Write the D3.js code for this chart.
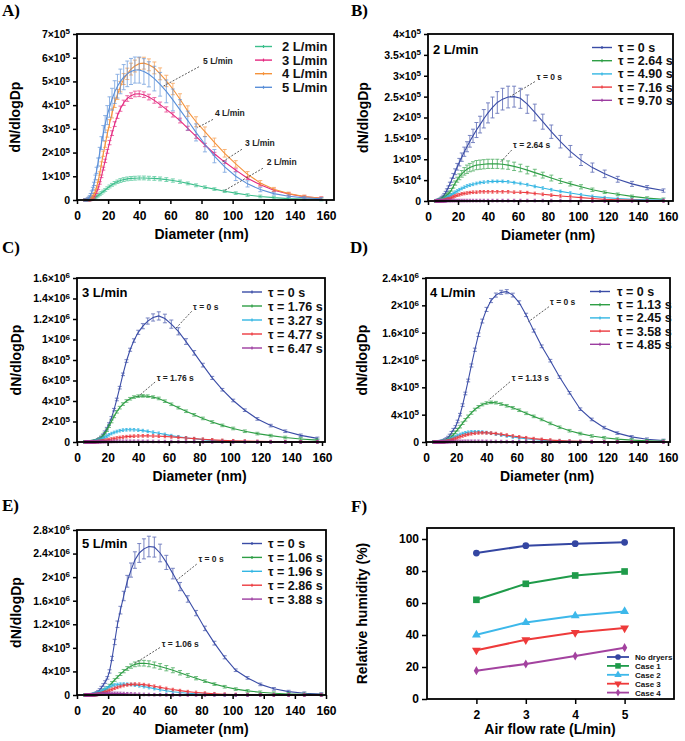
<!DOCTYPE html>
<html><head><meta charset="utf-8">
<script src="https://cdn.jsdelivr.net/npm/d3@7"></script>
<style>
body{margin:0;background:#fff;}
svg{display:block;}
</style></head><body>
<svg id="c" width="685" height="741"></svg>
<script>
// ---------------- DATA (values in thousands, i.e. ×10^3) ----------------
const diameters = [5.3,5.7,6.2,6.6,7.1,7.6,8.2,8.8,9.5,10.2, 10.9,11.8,12.6,13.6,14.6,15.7,16.9,18.1,19.5,20.9, 22.5,24.2,26.0,27.9,30.0,32.3,34.7,37.2,40.0,43.0, 46.2,49.7,53.4,57.4,61.6,66.2,71.2,76.5,82.2,88.3, 94.9,102.0,109.6,117.8,126.5,136.0,146.1,157.0];
const xTicks = [0,20,40,60,80,100,120,140,160];

// Panel A
const seriesA = ["2 L/min","3 L/min","4 L/min","5 L/min"];
const a2 = [0,0,0,0,1,1,2,3,4,6, 8,11,15,19,24,30,36,42,50,57, 64,71,77,82,86,89,91,92,93,93, 92,91,89,86,82,77,70,62,54,46, 37,29,21,15,10,6,4,2];
const a2Err = [0,0,0,0,0,0,0,0,0,1, 1,1,2,2,3,3,4,5,5,6, 6,7,7,8,8,8,8,8,8,8, 8,8,8,8,7,7,6,6,5,5, 4,3,3,2,2,1,1,1];
const a3 = [0,0,0,0,1,1,2,3,5,8, 13,22,33,50,72,100,132,165,205,242, 282,320,355,385,410,428,440,447,448,444, 434,420,402,382,360,335,302,268,232,195, 160,126,92,64,41,25,14,8];
const a3Err = [0,0,0,0,0,0,0,1,1,1, 1,2,2,3,4,5,6,7,8,9, 10,10,11,11,11,12,12,12,12,12, 12,12,11,11,10,10,9,8,7,6, 5,4,3,3,2,2,1,1];
const a4 = [0,0,0,1,2,3,5,8,11,16, 24,37,55,80,112,152,195,235,280,322, 365,410,445,478,510,532,552,565,575,577, 570,557,532,502,468,425,375,330,288,243, 197,152,108,72,45,27,15,7];
const a4Err = [0,0,0,0,0,0,1,1,1,2, 2,3,4,5,7,9,11,13,15,17, 19,20,21,22,23,24,25,25,25,25, 25,25,25,24,24,23,22,21,20,18, 16,14,12,10,8,6,4,3];
const a5 = [0,0,1,2,4,8,14,22,33,48, 68,95,125,160,200,240,282,320,358,392, 425,455,480,500,518,532,542,548,548,542, 530,512,488,458,422,380,335,285,235,185, 140,100,68,44,27,16,9,5];
const a5Err = [0,0,0,0,1,1,1,2,2,5, 7,10,13,17,22,27,32,36,40,43, 46,48,50,52,53,54,55,55,55,54, 53,52,50,48,46,43,40,36,32,28, 23,18,13,9,6,4,2,1];
const yTicksA = [0,1e5,2e5,3e5,4e5,5e5,6e5,7e5];

// Panel B (2 L/min)
const seriesB = ["τ = 0 s","τ = 2.64 s","τ = 4.90 s","τ = 7.16 s","τ = 9.70 s"];
const b0 = [0,0,1,1,2,3,4,6,8,11, 15,20,26,33,41,50,60,70,82,93, 105,118,130,143,156,170,183,197,211,224, 236,244,249,250,246,232,212,190,166,142, 119,98,80,65,52,41,32,25];
const b0Err = [0,0,0,0,0,0,0,1,1,1, 2,2,3,3,4,5,6,7,8,9, 10,11,12,14,16,18,20,22,24,25, 26,26,26,25,24,22,20,18,16,15, 14,13,11,9,7,6,5,4];
const b1 = [0,0,0,0,1,1,2,3,4,6, 8,11,14,17,21,27,35,43,51,58, 65,71,76,80,83,86,87,88,89,89, 89,88,86,83,79,74,68,62,55,48, 41,34,27,21,16,11,7,4];
const b1Err = [0,0,0,0,0,0,0,0,1,1, 1,1,2,2,3,3,4,5,6,7, 8,9,10,10,11,11,11,11,11,11, 11,11,10,10,9,9,8,7,7,6, 5,5,4,3,3,2,2,1];
const b2 = [0,0,0,0,0,1,1,2,2,3, 4,6,8,10,12,15,18,21,24,27, 30,33,36,38,40,42,44,45,46,47, 47,47,46,44,42,39,35,31,27,23, 19,15,11,8,6,4,3,2];
const b3 = [0,0,0,0,0,0,1,1,1,1, 2,3,4,5,6,8,10,12,14,15, 17,18,19,20,21,21,22,22,22,22, 22,22,22,21,21,20,18,16,14,12, 10,8,6,4,3,2,1,1];
const b4 = [0,0,0,0,0,0,0,0,0,0, 0,0,1,1,1,1,1,1,1,1, 1,1,1,1,1,1,1,1,1,1, 1,1,1,1,1,1,1,1,1,1, 1,1,0,0,0,0,0,0];
const yTicksB = [0,5e4,1e5,1.5e5,2e5,2.5e5,3e5,3.5e5,4e5];

// Panel C (3 L/min)
const seriesC = ["τ = 0 s","τ = 1.76 s","τ = 3.27 s","τ = 4.77 s","τ = 6.47 s"];
const c0 = [0,0,0,0,0,1,1,1,2,3, 5,8,12,20,30,45,65,95,130,175, 235,315,415,530,660,790,900,990,1070,1130, 1180,1215,1230,1205,1150,1080,980,870,750,625, 510,405,310,225,160,105,65,35];
const c0Err = [0,0,0,0,0,0,0,0,0,0, 1,1,1,2,2,3,4,5,6,7, 8,9,10,11,12,13,15,17,20,25, 30,35,40,42,40,35,28,22,18,15, 12,10,8,6,5,4,3,2];
const c1 = [0,0,0,0,0,0,1,1,2,3, 5,7,11,17,25,38,56,80,115,155, 200,250,295,335,370,400,422,438,447,450, 447,438,425,398,368,335,300,265,230,195, 162,132,105,82,62,44,30,18];
const c1Err = [0,0,0,0,0,0,0,0,0,0, 0,1,1,1,2,2,3,3,4,5, 5,6,6,7,7,8,8,8,8,8, 8,8,8,7,7,6,6,5,5,4, 4,3,3,2,2,2,1,1];
const c2 = [0,0,0,0,0,0,0,1,1,2, 3,5,8,12,18,25,34,45,57,70, 82,93,102,110,116,119,120,119,116,111, 104,95,85,74,62,51,40,31,23,16, 11,7,5,3,2,1,1,0];
const c3 = [0,0,0,0,0,0,0,0,1,1, 1,2,3,4,6,8,11,15,19,24, 29,34,39,44,48,52,55,57,59,60, 60,59,57,54,50,45,39,33,27,21, 16,12,9,6,4,3,2,1];
const c4 = [0,0,0,0,0,0,0,0,0,0, 0,1,1,1,2,2,3,3,4,5, 5,6,6,7,7,7,7,7,7,6, 6,5,5,4,4,3,3,2,2,1, 1,1,1,0,0,0,0,0];
const yTicksC = [0,2e5,4e5,6e5,8e5,1e6,1.2e6,1.4e6,1.6e6];

// Panel D (4 L/min)
const seriesD = ["τ = 0 s","τ = 1.13 s","τ = 2.45 s","τ = 3.58 s","τ = 4.85 s"];
const d0 = [0,0,0,0,0,1,2,3,5,8, 12,20,30,45,65,95,135,180,220,300, 400,540,710,900,1120,1350,1570,1770,1940,2070, 2150,2190,2200,2150,2040,1860,1630,1400,1190,950, 720,480,330,210,130,75,40,22];
const d0Err = [0,0,0,0,0,0,0,0,1,1, 1,2,2,3,4,5,6,8,10,12, 14,16,18,20,22,24,26,28,30,30, 30,30,30,28,26,24,22,20,18,16, 14,12,10,8,6,5,4,3];
const d1 = [0,0,0,0,0,0,1,1,2,3, 5,8,12,20,32,50,75,105,140,180, 225,275,325,375,425,475,515,548,570,580, 575,555,530,500,465,420,375,330,272,215, 165,123,88,62,42,28,18,12];
const d1Err = [0,0,0,0,0,0,0,0,0,0, 1,1,1,2,2,3,4,5,6,7, 8,9,10,11,12,12,13,13,13,13, 13,13,13,13,12,12,11,10,9,8, 7,6,5,4,3,2,2,1];
const d2 = [0,0,0,0,0,0,1,1,2,3, 5,8,12,18,26,36,48,62,78,94, 110,123,134,142,148,150,149,145,138,128, 116,102,88,74,60,47,36,27,19,13, 9,6,4,3,2,1,1,0];
const d3v = [0,0,0,0,0,0,0,1,1,2, 3,5,7,11,16,22,30,40,51,63, 76,89,101,112,121,128,133,135,134,130, 123,113,101,88,75,62,49,38,28,20, 14,9,6,4,3,2,1,1];
const d4 = [0,0,0,0,0,0,0,0,0,1, 1,1,2,2,3,4,5,6,7,8, 9,9,10,10,10,10,10,9,9,8, 7,6,5,4,4,3,2,2,1,1, 1,1,0,0,0,0,0,0];
const yTicksD = [0,4e5,8e5,1.2e6,1.6e6,2e6,2.4e6];

// Panel E (5 L/min)
const seriesE = ["τ = 0 s","τ = 1.06 s","τ = 1.96 s","τ = 2.86 s","τ = 3.88 s"];
const e0 = [0,0,0,0,0,1,2,3,5,8, 13,22,35,55,85,125,170,220,290,400, 620,900,1200,1440,1680,1930,2120,2290,2410,2480, 2520,2510,2410,2250,2060,1840,1630,1390,1130,880, 640,420,290,180,105,58,30,15];
const e0Err = [0,0,0,0,0,0,0,1,1,1, 2,3,4,6,8,10,14,18,22,28, 36,45,55,65,80,100,120,140,160,170, 175,170,150,120,90,70,55,45,38,32, 26,20,15,10,7,5,3,2];
const e1 = [0,0,0,0,0,0,1,1,2,3, 5,8,13,20,30,45,65,90,122,160, 205,255,305,355,405,450,490,520,537,540, 530,510,485,455,420,378,332,285,235,185, 140,100,70,46,30,18,11,6];
const e1Err = [0,0,0,0,0,0,0,0,0,0, 1,1,2,2,3,4,5,7,9,11, 14,17,20,24,28,32,36,40,45,48, 50,50,48,45,42,38,33,28,23,18, 13,10,7,5,3,2,1,1];
const e2 = [0,0,0,0,0,1,1,2,3,5, 10,15,22,32,45,62,80,100,122,142, 158,170,178,183,185,183,177,168,156,142, 126,108,90,72,56,42,30,20,13,8, 5,3,2,1,1,0,0,0];
const e3 = [0,0,0,0,0,0,1,1,2,3, 4,6,9,14,20,28,38,50,64,80, 97,114,130,145,160,172,181,185,183,176, 164,148,130,111,92,74,57,43,31,21, 14,9,6,4,2,1,1,0];
const e4 = [0,0,0,0,0,0,1,1,2,3, 4,6,8,11,14,17,20,23,26,27, 28,28,27,26,24,21,18,15,12,9, 7,5,4,3,2,1,1,1,0,0, 0,0,0,0,0,0,0,0];
const yTicksE = [0,4e5,8e5,1.2e6,1.6e6,2e6,2.4e6,2.8e6];

// Panel F
const flowRates = [2,3,4,5];
const rhNames = ["No dryers","Case 1","Case 2","Case 3","Case 4"];
const rhNoDryers = [91.2,95.8,97.1,97.9];
const rhCase1 = [62,72,77.2,79.7];
const rhCase2 = [40.1,47.8,52,54.7];
const rhCase3 = [30.5,37,41.5,44.3];
const rhCase4 = [17.7,21.9,26.9,32.1];
const yTicksF = [0,20,40,60,80,100];

// ---------------- STYLE / LAYOUT ----------------
const FONT = "'Liberation Sans', Arial, Helvetica, sans-serif";
const SERIF = "'Liberation Serif', 'Times New Roman', serif";
const colorsA = ["#3cbf8c","#e4287f","#f5923a","#5a8fd8"];
const colorsT = ["#3a4ca6","#2e9e45","#33b6e3","#ec3a3f","#9c3ca0"];
const colorsF = ["#3446a2","#1f9b4a","#3db8ea","#ee3a3a","#a3429f"];

const svg = d3.select("#c");

function sciParts(v){
  const e = Math.floor(Math.log10(v)+1e-9);
  const m = +(v/Math.pow(10,e)).toFixed(2);
  return [String(m), String(e)];
}

const panels = [
 {letter:"A)", lx:2, ly:16, left:77, right:334, top:34, bottom:200, x160:326, yMax:7e5, yTicks:yTicksA,
  names:seriesA, values:[a2,a3,a4,a5], errs:[a2Err,a3Err,a4Err,a5Err], colors:colorsA, ylx:15,
  label:null, leg:{x1:255,x2:272,tx:282,y0:46.5,dy:13.6,fs:13},
  notes:[{t:"5 L/min",tx:81,ty:5.74e5,x1:78.4,y1:5.62e5,x2:54.6,y2:4.77e5},
         {t:"4 L/min",tx:88.7,ty:3.54e5,x1:87.4,y1:3.40e5,x2:77.1,y2:3.04e5},
         {t:"3 L/min",tx:108,ty:2.28e5,x1:106,y1:2.14e5,x2:93.2,y2:1.60e5},
         {t:"2 L/min",tx:122,ty:1.48e5,x1:119.5,y1:1.34e5,x2:93.8,y2:0.36e5}]},
 {letter:"B)", lx:351, ly:16, left:428, right:673, top:34, bottom:201, x160:668, yMax:4e5, yTicks:yTicksB,
  names:seriesB, values:[b0,b1,b2,b3,b4], errs:[b0Err,b1Err,null,null,null], colors:colorsT, ylx:363,
  label:{t:"2 L/min",x:433,y:53.5}, leg:{x1:592,x2:612,tx:618,y0:47.5,dy:13.2,fs:12.5},
  notes:[{t:"τ = 0 s",tx:72.5,ty:2.9e5,x1:71.3,y1:2.86e5,x2:54.7,y2:2.5e5},
         {t:"τ = 2.64 s",tx:56.7,ty:1.27e5,x1:55.8,y1:1.22e5,x2:48,y2:0.92e5}]},
 {letter:"C)", lx:2, ly:253, left:77, right:325, top:278, bottom:442, x160:322, yMax:1.6e6, yTicks:yTicksC,
  names:seriesC, values:[c0,c1,c2,c3,c4], errs:[c0Err,c1Err,null,null,null], colors:colorsT, ylx:16,
  label:{t:"3 L/min",x:82,y:296.5}, leg:{x1:242,x2:262,tx:268,y0:292,dy:14,fs:12.5},
  notes:[{t:"τ = 0 s",tx:75.8,ty:12.9e5,x1:74.9,y1:12.75e5,x2:64,y2:11.0e5},
         {t:"τ = 1.76 s",tx:52,ty:6.0e5,x1:51,y1:5.85e5,x2:40,y2:4.45e5}]},
 {letter:"D)", lx:350, ly:253, left:426, right:670, top:278, bottom:442, x160:668, yMax:2.4e6, yTicks:yTicksD,
  names:seriesD, values:[d0,d1,d2,d3v,d4], errs:[d0Err,d1Err,null,null,null], colors:colorsT, ylx:362,
  label:{t:"4 L/min",x:430,y:296.5}, leg:{x1:590,x2:610,tx:617,y0:291.5,dy:13.2,fs:12.5},
  notes:[{t:"τ = 0 s",tx:82,ty:19.98e5,x1:81.3,y1:19.8e5,x2:67.7,y2:17.6e5},
         {t:"τ = 1.13 s",tx:56.7,ty:9.0e5,x1:55.5,y1:8.8e5,x2:41.2,y2:6.1e5}]},
 {letter:"E)", lx:2, ly:511, left:77, right:326, top:530, bottom:695, x160:326, yMax:2.8e6, yTicks:yTicksE,
  names:seriesE, values:[e0,e1,e2,e3,e4], errs:[e0Err,e1Err,null,null,null], colors:colorsT, ylx:16,
  label:{t:"5 L/min",x:82,y:547.5}, leg:{x1:242,x2:262,tx:268,y0:543.5,dy:13.9,fs:12.5},
  notes:[{t:"τ = 0 s",tx:78,ty:22.5e5,x1:76.9,y1:22.2e5,x2:64.1,y2:19.5e5},
         {t:"τ = 1.06 s",tx:54.4,ty:8.23e5,x1:53.3,y1:8.05e5,x2:37.3,y2:5.4e5}]}
];

function drawPanel(p){
  const g = svg.append("g");
  const x = d3.scaleLinear().domain([0,160]).range([p.left,p.x160]);
  const y = d3.scaleLinear().domain([0,p.yMax]).range([p.bottom,p.top]);

  p.values.forEach((vals,i)=>{
    const errs = p.errs[i];
    const c = p.colors[i];
    const data = diameters.map((d,j)=>({d, v: vals[j]*1e3, e: errs ? errs[j]*1e3 : 0}));
    // error bars / point markers
    const eb = g.append("g").attr("stroke",c).attr("stroke-width",0.9).attr("opacity",errs?0.75:0.9);
    data.forEach(pt=>{
      const cx = x(pt.d);
      const yt = Math.min(y(pt.v+pt.e), y(pt.v)-1.3);
      const yb = Math.max(y(pt.v-pt.e), y(pt.v)+1.3);
      eb.append("line").attr("x1",cx).attr("x2",cx).attr("y1",yt).attr("y2",yb);
      const cw = errs ? 2 : 1.2;
      eb.append("line").attr("x1",cx-cw).attr("x2",cx+cw).attr("y1",yt).attr("y2",yt);
      eb.append("line").attr("x1",cx-cw).attr("x2",cx+cw).attr("y1",yb).attr("y2",yb);
    });
    g.append("path").datum(data)
      .attr("d", d3.line().x(d=>x(d.d)).y(d=>y(d.v)))
      .attr("fill","none").attr("stroke",c).attr("stroke-width",1.1);
  });

  // frame
  g.append("rect").attr("x",p.left).attr("y",p.top).attr("width",p.right-p.left).attr("height",p.bottom-p.top)
    .attr("fill","none").attr("stroke","#000").attr("stroke-width",1.8);

  // y axis
  const ya = g.append("g").attr("transform",`translate(${p.left},0)`)
    .call(d3.axisLeft(y).tickValues(p.yTicks).tickSize(4).tickSizeOuter(0).tickPadding(3));
  ya.select(".domain").remove();
  ya.attr("font-family",FONT).attr("font-size",10.5).attr("font-weight","bold");
  ya.selectAll(".tick line").attr("stroke","#000").attr("stroke-width",1.5);
  ya.selectAll(".tick text").attr("fill","#000").each(function(d){
    const t = d3.select(this); t.text(null);
    if(d===0){ t.text("0"); return; }
    const sp = sciParts(d);
    t.append("tspan").text(sp[0]+"×10");
    t.append("tspan").attr("dy","-0.45em").attr("font-size","8px").text(sp[1]);
  });

  // x axis
  const xa = g.append("g").attr("transform",`translate(0,${p.bottom})`)
    .call(d3.axisBottom(x).tickValues(xTicks).tickSize(4).tickSizeOuter(0).tickPadding(7));
  xa.select(".domain").remove();
  xa.attr("font-family",FONT).attr("font-size",12).attr("font-weight","bold");
  xa.selectAll(".tick line").attr("stroke","#000").attr("stroke-width",1.5);
  xa.selectAll(".tick text").attr("fill","#000");

  // axis titles
  svg.append("text").attr("x",(p.left+p.x160)/2).attr("y",p.bottom+39)
    .attr("text-anchor","middle").attr("font-family",FONT).attr("font-weight","bold").attr("font-size",14)
    .text("Diameter (nm)");
  svg.append("text").attr("transform",`translate(${p.ylx},${(p.top+p.bottom)/2}) rotate(-90)`)
    .attr("text-anchor","middle").attr("dy","0.35em").attr("font-family",FONT).attr("font-weight","bold").attr("font-size",14)
    .text("dN/dlogDp");

  // panel letter
  svg.append("text").attr("x",p.lx).attr("y",p.ly).attr("font-family",SERIF).attr("font-weight","bold")
    .attr("font-size",17).text(p.letter);

  // inside label
  if(p.label){
    svg.append("text").attr("x",p.label.x).attr("y",p.label.y).attr("font-family",FONT)
      .attr("font-weight","bold").attr("font-size",13).text(p.label.t);
  }

  // legend
  p.names.forEach((n,i)=>{
    const yy = p.leg.y0 + i*p.leg.dy;
    const c = p.colors[i];
    svg.append("line").attr("x1",p.leg.x1).attr("x2",p.leg.x2).attr("y1",yy).attr("y2",yy)
      .attr("stroke",c).attr("stroke-width",1.4);
    const mx = (p.leg.x1+p.leg.x2)/2;
    svg.append("line").attr("x1",mx).attr("x2",mx).attr("y1",yy-1.5).attr("y2",yy+1.5)
      .attr("stroke",c).attr("stroke-width",1.2);
    svg.append("text").attr("x",p.leg.tx).attr("y",yy+4.5).attr("font-family",FONT)
      .attr("font-weight","bold").attr("font-size",p.leg.fs).attr("fill","#111").text(n);
  });

  // annotations
  p.notes.forEach(n=>{
    svg.append("line").attr("x1",x(n.x1)).attr("y1",y(n.y1)).attr("x2",x(n.x2)).attr("y2",y(n.y2))
      .attr("stroke","#333").attr("stroke-width",0.8).attr("stroke-dasharray","2,1.5");
    svg.append("text").attr("x",x(n.tx)).attr("y",y(n.ty)).attr("font-family",FONT)
      .attr("font-weight","bold").attr("font-size",8.5).attr("fill","#222").text(n.t);
  });
}

panels.forEach(drawPanel);

// ---------------- Panel F ----------------
(function(){
  const L = {left:427,right:674,top:528,bottom:699};
  const x = d3.scaleLinear().domain([1,6]).range([L.left,L.right]);
  const y = d3.scaleLinear().domain([0,100]).range([L.bottom,539]);
  const g = svg.append("g");
  const seriesF = [rhNoDryers,rhCase1,rhCase2,rhCase3,rhCase4];
  const symbols = [
    {type:d3.symbolCircle,size:36,rot:0},
    {type:d3.symbolSquare,size:44,rot:0},
    {type:d3.symbolTriangle,size:34,rot:0},
    {type:d3.symbolTriangle,size:34,rot:180},
    {type:d3.symbolDiamond,size:24,rot:0}
  ];
  seriesF.forEach((vals,i)=>{
    const data = flowRates.map((f,j)=>({f,v:vals[j]}));
    g.append("path").datum(data).attr("d",d3.line().x(d=>x(d.f)).y(d=>y(d.v)))
      .attr("fill","none").attr("stroke",colorsF[i]).attr("stroke-width",2);
    g.selectAll(null).data(data).join("path")
      .attr("transform",d=>`translate(${x(d.f)},${y(d.v)}) rotate(${symbols[i].rot})`)
      .attr("d",d3.symbol().type(symbols[i].type).size(symbols[i].size))
      .attr("fill",colorsF[i]);
  });
  g.append("rect").attr("x",L.left).attr("y",L.top).attr("width",L.right-L.left).attr("height",L.bottom-L.top)
    .attr("fill","none").attr("stroke","#000").attr("stroke-width",1.8);
  const ya = g.append("g").attr("transform",`translate(${L.left},0)`)
    .call(d3.axisLeft(y).tickValues(yTicksF).tickSize(5).tickSizeOuter(0).tickPadding(3));
  ya.select(".domain").remove();
  ya.attr("font-family",FONT).attr("font-size",12).attr("font-weight","bold");
  ya.selectAll(".tick line").attr("stroke","#000").attr("stroke-width",1.5);
  ya.selectAll(".tick text").attr("fill","#000");
  const xa = g.append("g").attr("transform",`translate(0,${L.bottom})`)
    .call(d3.axisBottom(x).tickValues(flowRates).tickSize(5).tickSizeOuter(0).tickPadding(6).tickFormat(d3.format("d")));
  xa.select(".domain").remove();
  xa.attr("font-family",FONT).attr("font-size",12).attr("font-weight","bold");
  xa.selectAll(".tick line").attr("stroke","#000").attr("stroke-width",1.5);
  xa.selectAll(".tick text").attr("fill","#000");

  svg.append("text").attr("x",550).attr("y",734).attr("text-anchor","middle").attr("font-family",FONT)
    .attr("font-weight","bold").attr("font-size",14).text("Air flow rate (L/min)");
  svg.append("text").attr("transform",`translate(362,${(L.top+L.bottom)/2}) rotate(-90)`)
    .attr("text-anchor","middle").attr("dy","0.35em").attr("font-family",FONT).attr("font-weight","bold")
    .attr("font-size",14).text("Relative humidity (%)");
  svg.append("text").attr("x",351).attr("y",512).attr("font-family",SERIF).attr("font-weight","bold")
    .attr("font-size",17).text("F)");

  rhNames.forEach((n,i)=>{
    const yy = 657 + i*8.9;
    svg.append("line").attr("x1",607).attr("x2",629).attr("y1",yy).attr("y2",yy)
      .attr("stroke",colorsF[i]).attr("stroke-width",1.8);
    svg.append("path").attr("transform",`translate(618,${yy}) rotate(${symbols[i].rot})`)
      .attr("d",d3.symbol().type(symbols[i].type).size(symbols[i].size*0.7)).attr("fill",colorsF[i]);
    svg.append("text").attr("x",635).attr("y",yy+3).attr("font-family",FONT).attr("font-weight","bold")
      .attr("font-size",8).attr("fill","#111").text(n);
  });
})();
</script>
</body></html>
